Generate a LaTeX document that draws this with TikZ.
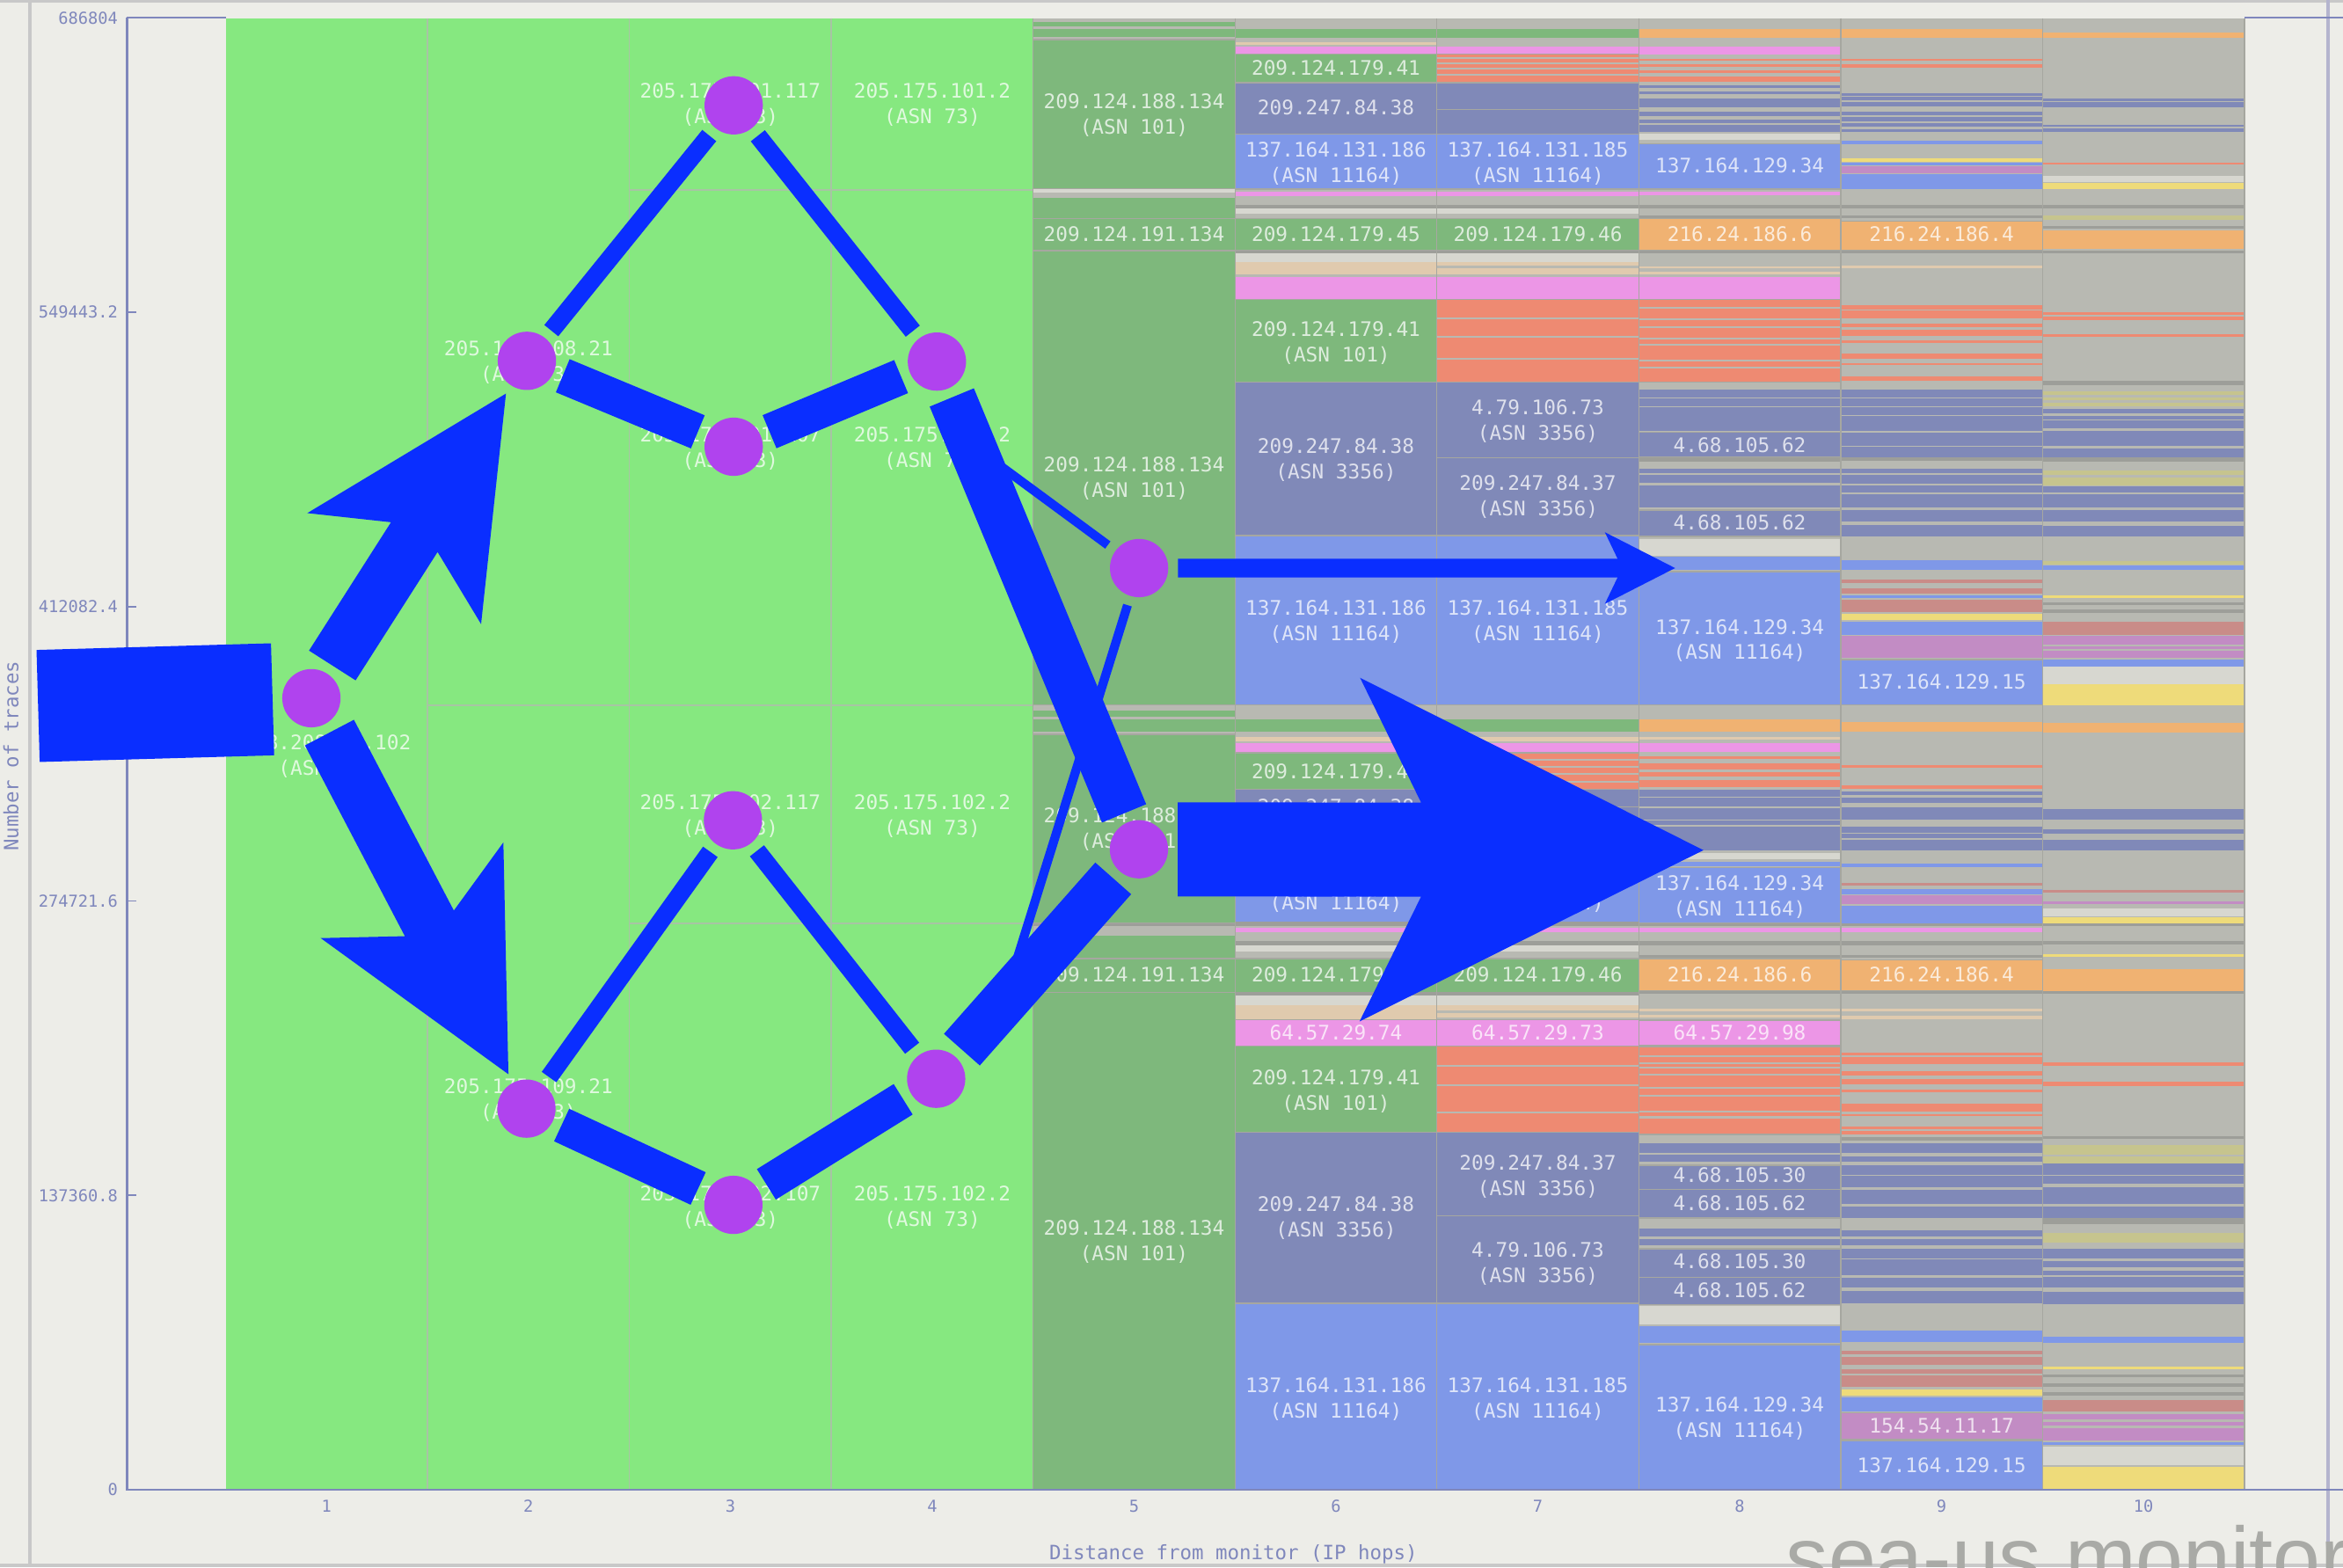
\documentclass[tikz,border=0pt]{standalone}
\usepackage{fontspec}
\usetikzlibrary{calc}
\newfontfamily\monof{DejaVu Sans Mono}
\newfontfamily\wmfont{Liberation Sans}

\definecolor{cBg}{HTML}{EDEDE8}
\definecolor{cFr}{HTML}{C8C8C8}
\definecolor{cLg}{HTML}{86E880}
\definecolor{cDg}{HTML}{7EB87C}
\definecolor{cSl}{HTML}{8089B8}
\definecolor{cSk}{HTML}{7F98E8}
\definecolor{cSa}{HTML}{EE8A72}
\definecolor{cPk}{HTML}{EC96E6}
\definecolor{cOr}{HTML}{F0B272}
\definecolor{cGr}{HTML}{B8B9B2}
\definecolor{cDk}{HTML}{9D9E99}
\definecolor{cLt}{HTML}{D7D7D0}
\definecolor{cBe}{HTML}{E0CAAE}
\definecolor{cYe}{HTML}{EEDB7A}
\definecolor{cMa}{HTML}{C28CC4}
\definecolor{cRo}{HTML}{C98C88}
\definecolor{cOl}{HTML}{C6C48E}
\definecolor{cLine}{HTML}{A6A7A0}
\definecolor{cGl}{HTML}{A8C4A4}
\definecolor{cAx}{HTML}{7F87BC}
\definecolor{cEdge}{HTML}{0A2EFF}
\definecolor{cNode}{HTML}{B043EE}
\definecolor{cWm}{HTML}{A9AAA6}

\newcommand\labfont{\monof\fontsize{13.4}{14}\selectfont}
\newcommand\axfont{\monof\fontsize{13.2}{14}\selectfont}
\newcommand\tkfont{\monof\fontsize{11}{12}\selectfont}
\newcommand\wmf{\wmfont\fontsize{57}{60}\selectfont}

\newcounter{lbc}
% a coloured stripe across one hop column
\newcommand\bnd[3]{\fill[#3] (0,#1) rectangle (135.1,#2);}
% a bordered cell across one hop column
\newcommand\cel[3]{\filldraw[fill=#3, draw=cLine, line width=0.8pt] (0,#1) rectangle (135.1,#2);}
% thin grey divider inside a cell
\newcommand\hl[1]{\fill[cGr] (0,#1-0.6) rectangle (135.1,#1+0.6);}
% cell labels (one and two lines)
\newcommand\lbl[2]{\stepcounter{lbc}\node[lab] (lab\arabic{lbc}) at (67.55,#1) {#2};}
\newcommand\lbll[3]{\lbl{#1}{#2}\lbl{#1+17}{#3}}
% thick arrow: start S, tip T, half shaft, head length, tip-to-join, head half width
\newcommand\fatarrow[6]{\fill[cEdge] ($(#1)!#3!90:(#2)$) -- ($(#2)!#5!(#1)!#3!90:(#2)$) -- ($(#2)!#4!(#1)!#6!90:(#2)$) -- (#2) -- ($(#2)!#4!(#1)!#6!270:(#2)$) -- ($(#2)!#5!(#1)!#3!270:(#2)$) -- ($(#1)!#3!270:(#2)$) -- cycle;}

\begin{document}
\begin{tikzpicture}[x=1pt,y=-1pt,
  lab/.style={font=\labfont, text=white, text opacity=0.74, inner sep=0pt, text height=9.8pt, text depth=0pt, anchor=center},
  tkl/.style={font=\tkfont, text=cAx, inner sep=0pt},
  axl/.style={font=\axfont, text=cAx, inner sep=0pt},
  gnode/.style={circle, fill=cNode, minimum size=39pt, inner sep=0pt, outer sep=6.5pt},
  link/.style={draw=cEdge, line cap=butt},
]
\clip (0,0) rectangle (1568,1049);
\fill[cBg] (0,0) rectangle (1568,1049);

% outer frame
\fill[cFr] (0,0) rectangle (1568,1.5);
\fill[cFr] (0,1046.5) rectangle (1568,1049);
\fill[cFr] (19,0) rectangle (21,1049);
\fill[cFr!90!blue] (1556.6,0) rectangle (1559.2,1049);

% plot background
\fill[cLg] (151,12.2) rectangle (691.4,997);
\fill[cDg] (691.4,12.2) rectangle (826.5,997);
\fill[cGr] (826.5,12.2) rectangle (1502,997);

% hop 1
\begin{scope}[shift={(151,0)}]
\lbl{497}{198.208.16.102}\lbl{514}{(ASN 73)}
\end{scope}
% hop 2
\begin{scope}[shift={(286.1,0)}]
\lbll{233}{205.175.108.21}{(ASN 73)}
\lbll{727}{205.175.109.21}{(ASN 73)}
\end{scope}
% hop 3
\begin{scope}[shift={(421.2,0)}]
\lbll{61}{205.175.101.117}{(ASN 73)}
\lbll{291}{205.175.101.107}{(ASN 73)}
\lbll{537}{205.175.102.117}{(ASN 73)}
\lbll{799}{205.175.102.107}{(ASN 73)}
\end{scope}
% hop 4
\begin{scope}[shift={(556.3,0)}]
\lbll{61}{205.175.101.2}{(ASN 73)}
\lbll{291}{205.175.101.2}{(ASN 73)}
\lbll{537}{205.175.102.2}{(ASN 73)}
\lbll{799}{205.175.102.2}{(ASN 73)}
\end{scope}
\draw[cGl, line width=0.9pt] (286.1,472) -- (691.4,472);
\draw[cGl, line width=0.9pt] (421.2,127) -- (691.4,127);
\draw[cGl, line width=0.9pt] (421.2,618) -- (691.4,618);

% hop 5
\begin{scope}[shift={(691.4,0)}]
\bnd{12.2}{14.7}{cGr}\bnd{17.7}{19.6}{cGr}\bnd{24.5}{26.5}{cGr}
\cel{26.5}{126.5}{cDg}\lbll{68}{209.124.188.134}{(ASN 101)}
\bnd{126.5}{129}{cLt}\bnd{129}{132.4}{cGr}
\cel{146.2}{167.8}{cDg}\lbl{156.5}{209.124.191.134}
\cel{167.8}{471.8}{cDg}\lbll{311}{209.124.188.134}{(ASN 101)}
\bnd{471.8}{475.8}{cGr}\bnd{479.7}{481.7}{cGr}\bnd{489.5}{491.5}{cGr}
\cel{491.5}{618}{cDg}\lbll{546}{209.124.188.134}{(ASN 101)}
\bnd{618}{620}{cDk}\bnd{620}{626}{cGr}
\cel{641.6}{664.2}{cDg}\lbl{652.5}{209.124.191.134}
\cel{664.2}{997}{cDg}\lbll{822}{209.124.188.134}{(ASN 101)}
\end{scope}

% hop 6
\begin{scope}[shift={(826.5,0)}]
\bnd{19.2}{25.1}{cDg}\bnd{28.5}{29.8}{cBe}\bnd{31.4}{36.3}{cPk}
\cel{36.3}{55.4}{cDg}\lbl{45.6}{209.124.179.41}
\cel{55.4}{89.8}{cSl}\lbl{72}{209.247.84.38}
\cel{89.8}{126.5}{cSk}\lbll{100}{137.164.131.186}{(ASN 11164)}
\bnd{128.5}{131.1}{cPk}\bnd{137.3}{139.3}{cDk}\bnd{139.3}{143.2}{cLt}
\cel{146.2}{167.8}{cDg}\lbl{156.5}{209.124.179.45}
\bnd{167.8}{169.7}{cDk}\bnd{169.7}{175.6}{cLt}\bnd{175.6}{183.4}{cBe}\bnd{185.4}{200.1}{cPk}
\cel{200.6}{255.6}{cDg}\lbll{220.5}{209.124.179.41}{(ASN 101)}
\cel{255.6}{358.5}{cSl}\lbll{298.5}{209.247.84.38}{(ASN 3356)}
\cel{358.5}{471.9}{cSk}\lbll{407}{137.164.131.186}{(ASN 11164)}
\bnd{481.7}{489.5}{cDg}\bnd{493.5}{496.4}{cBe}\bnd{497.4}{503.3}{cPk}
\cel{503.8}{528.3}{cDg}\lbl{516}{209.124.179.41}
\cel{528.3}{552.5}{cSl}\lbl{540}{209.247.84.38}
\cel{552.5}{617}{cSk}\lbll{587}{137.164.131.186}{(ASN 11164)}
\bnd{617}{620}{cDk}\bnd{621}{624}{cPk}\bnd{630}{633}{cDk}\bnd{633}{637}{cLt}
\cel{641.6}{664.2}{cDg}\lbl{652.5}{209.124.179.45}
\bnd{664.2}{666}{cDk}\bnd{666}{673}{cLt}\bnd{673}{682}{cBe}
\cel{682.5}{700}{cPk}\lbl{691}{64.57.29.74}
\cel{700}{757.9}{cDg}\lbll{721}{209.124.179.41}{(ASN 101)}
\cel{757.9}{872.3}{cSl}\lbll{806}{209.247.84.38}{(ASN 3356)}
\cel{872.3}{997}{cSk}\lbll{927}{137.164.131.186}{(ASN 11164)}
\end{scope}

% hop 7
\begin{scope}[shift={(961.6,0)}]
\bnd{19.2}{25.1}{cDg}\bnd{31.4}{36.3}{cPk}
\cel{36.3}{55.4}{cSa}\hl{38.6}\hl{42.4}\hl{46.1}\hl{50.1}
\cel{55.4}{73.1}{cSl}\cel{73.1}{89.8}{cSl}
\cel{89.8}{126.5}{cSk}\lbll{100}{137.164.131.185}{(ASN 11164)}
\bnd{128.5}{131.1}{cPk}\bnd{137.3}{139.3}{cDk}\bnd{139.3}{143.2}{cLt}
\cel{146.2}{167.8}{cDg}\lbl{156.5}{209.124.179.46}
\bnd{167.8}{169.7}{cDk}\bnd{169.7}{175.6}{cLt}\bnd{175.6}{177.6}{cBe}\bnd{179.5}{183.4}{cBe}\bnd{185.4}{200.1}{cPk}
\cel{200.6}{255.6}{cSa}\hl{213}\hl{225.6}\hl{240.3}
\cel{255.6}{306.5}{cSl}\lbll{272.5}{4.79.106.73}{(ASN 3356)}
\cel{306.5}{358.5}{cSl}\lbll{323.5}{209.247.84.37}{(ASN 3356)}
\cel{358.5}{471.9}{cSk}\lbll{407}{137.164.131.185}{(ASN 11164)}
\bnd{481.7}{489.5}{cDg}\bnd{493.5}{496.4}{cBe}\bnd{497.4}{503.3}{cPk}
\cel{503.8}{528.3}{cSa}\hl{508.5}\hl{513}\hl{518}\hl{523}
\cel{528.3}{540}{cSl}\cel{540}{552.5}{cSl}
\cel{552.5}{617}{cSk}\lbll{587}{137.164.131.185}{(ASN 11164)}
\bnd{617}{620}{cDk}\bnd{621}{624}{cPk}\bnd{630}{633}{cDk}\bnd{633}{637}{cLt}
\cel{641.6}{664.2}{cDg}\lbl{652.5}{209.124.179.46}
\bnd{664.2}{666}{cDk}\bnd{666}{673}{cLt}\bnd{673}{676}{cBe}\bnd{678}{681}{cBe}
\cel{682.5}{700}{cPk}\lbl{691}{64.57.29.73}
\cel{700}{757.9}{cSa}\hl{713.5}\hl{726.5}\hl{744.7}
\cel{757.9}{813.7}{cSl}\lbll{778.5}{209.247.84.37}{(ASN 3356)}
\cel{813.7}{872.3}{cSl}\lbll{836.5}{4.79.106.73}{(ASN 3356)}
\cel{872.3}{997}{cSk}\lbll{927}{137.164.131.185}{(ASN 11164)}
\end{scope}

% hop 8
\begin{scope}[shift={(1096.7,0)}]
\bnd{19.2}{25.5}{cOr}\bnd{31.4}{36.3}{cPk}
\bnd{39.2}{40.8}{cSa}\bnd{43.2}{44.7}{cSa}\bnd{47}{49}{cSa}\bnd{51.4}{54.5}{cSa}
\bnd{56.9}{58.9}{cSl}\bnd{61.2}{63.2}{cSl}\bnd{65.7}{71.6}{cSl}\bnd{74.6}{77.5}{cSl}\bnd{80}{82.4}{cSl}\bnd{83.4}{88.3}{cSl}
\bnd{89.3}{93.8}{cLt}
\cel{96.1}{126.5}{cSk}\lbl{111}{137.164.129.34}
\bnd{128.5}{130.5}{cPk}\bnd{137.3}{139.3}{cDk}\bnd{144}{146}{cDk}
\cel{146.2}{167.8}{cOr}\lbl{156.5}{216.24.186.6}
\bnd{167.8}{169.7}{cDk}\bnd{178.5}{179.5}{cBe}\bnd{182}{183.4}{cBe}\bnd{185.4}{200.1}{cPk}
\cel{200.6}{255.6}{cSa}\hl{206}\hl{213.9}\hl{218.8}\hl{226.6}\hl{230.5}\hl{241.3}\hl{246.2}
\bnd{261}{265.8}{cSl}\bnd{266.8}{271.7}{cSl}\bnd{272.7}{288.4}{cSl}
\cel{289.4}{306}{cSl}\lbl{297.8}{4.68.105.62}
\bnd{306}{309}{cDk}
\bnd{313.9}{316.9}{cSl}\bnd{317.8}{323.3}{cSl}\bnd{324.7}{339.4}{cSl}
\cel{341.4}{359}{cSl}\lbl{349.5}{4.68.105.62}
\bnd{361}{371.8}{cLt}\bnd{372.8}{381.6}{cSk}
\cel{382.6}{471.8}{cSk}\lbll{419.5}{137.164.129.34}{(ASN 11164)}
\bnd{481.7}{489.5}{cOr}\bnd{493.5}{495}{cBe}\bnd{497.4}{503.3}{cPk}
\bnd{506.2}{508.2}{cSa}\bnd{511}{515}{cSa}\bnd{517}{520}{cSa}\bnd{522}{527}{cSa}
\bnd{528.8}{533}{cSl}\bnd{534}{540}{cSl}\bnd{541}{548.4}{cSl}\bnd{549.4}{552.3}{cSl}\bnd{553.3}{569}{cSl}
\bnd{571}{575}{cLt}\bnd{577}{580}{cSk}
\cel{580.8}{618}{cSk}\lbll{591}{137.164.129.34}{(ASN 11164)}
\bnd{618}{620}{cDk}\bnd{621}{624}{cPk}\bnd{630}{633}{cDk}\bnd{639}{641}{cDk}
\cel{641.6}{663.2}{cOr}\lbl{652.5}{216.24.186.6}
\bnd{663.2}{665}{cDk}\bnd{675}{677}{cBe}\bnd{679}{681}{cBe}
\cel{682.8}{699.5}{cPk}\lbl{691}{64.57.29.98}
\cel{700.5}{759.2}{cSa}\hl{706.8}\hl{711.7}\hl{714.5}\hl{719.5}\hl{728}\hl{733.3}\hl{743.7}\hl{747.8}
\bnd{765.4}{771.6}{cSl}\bnd{772.7}{777.8}{cSl}
\cel{779.9}{795.9}{cSl}\lbl{786.5}{4.68.105.30}
\cel{795.9}{815.1}{cSl}\lbl{805}{4.68.105.62}
\bnd{822.3}{827.5}{cSl}\bnd{829.6}{833.7}{cSl}
\cel{835.8}{855}{cSl}\lbl{844}{4.68.105.30}
\cel{855}{873.1}{cSl}\lbl{863.5}{4.68.105.62}
\bnd{874.1}{886.5}{cLt}\bnd{887.6}{899}{cSk}
\cel{900}{997}{cSk}\lbll{940}{137.164.129.34}{(ASN 11164)}
\end{scope}

% hop 9
\begin{scope}[shift={(1231.8,0)}]
\bnd{19.2}{25.1}{cOr}
\bnd{39.2}{40.8}{cSa}\bnd{43.2}{45.5}{cSa}
\bnd{62.4}{64.4}{cSl}\bnd{65}{67}{cSl}\bnd{68.3}{71}{cSl}\bnd{74.6}{76.9}{cSl}\bnd{78.5}{81.4}{cSl}\bnd{82.4}{84.8}{cSl}\bnd{86.3}{88.3}{cSl}
\bnd{94.2}{96.5}{cSk}\bnd{106}{108.3}{cYe}\bnd{108.9}{110.9}{cSk}\bnd{111.4}{115.8}{cMa}\bnd{116.7}{126.5}{cSk}
\bnd{137.3}{139.3}{cDk}\bnd{144.2}{146.2}{cDk}
\cel{148.1}{167.8}{cOr}\lbl{156.5}{216.24.186.4}
\bnd{167.8}{169.7}{cDk}\bnd{177.6}{179.5}{cBe}
\bnd{204}{207}{cSa}\bnd{207.5}{213}{cSa}\bnd{216.8}{218.8}{cSa}\bnd{220.7}{224.7}{cSa}\bnd{227.6}{229.5}{cSa}\bnd{236.4}{240.3}{cSa}\bnd{242.9}{244.3}{cSa}\bnd{252.1}{255.1}{cSa}
\bnd{261}{265.8}{cSl}\bnd{266.8}{271.7}{cSl}\bnd{272.7}{277.6}{cSl}\bnd{278.6}{288.4}{cSl}\bnd{289.4}{298.2}{cSl}\bnd{299.2}{306.1}{cSl}
\bnd{306.1}{308.5}{cDk}
\bnd{313.9}{316.9}{cSl}\bnd{317.8}{323.7}{cSl}\bnd{324.7}{329.6}{cSl}\bnd{330.6}{339.4}{cSl}\bnd{341.4}{349.2}{cSl}\bnd{351.2}{359}{cSl}
\bnd{374.7}{381.6}{cSk}
\bnd{388}{390}{cRo}\bnd{393.9}{397.3}{cRo}\bnd{398.7}{400.3}{cSk}\bnd{401.2}{409.6}{cRo}
\bnd{411}{415}{cYe}\bnd{416}{424.8}{cSk}\bnd{425.7}{440.5}{cMa}
\cel{441.4}{471.8}{cSk}\lbl{456.5}{137.164.129.15}
\bnd{483}{489.5}{cOr}
\bnd{512.1}{514}{cSa}\bnd{525.8}{527.8}{cSa}
\bnd{530}{532}{cSl}\bnd{534}{537.5}{cSl}\bnd{540.5}{548.4}{cSl}\bnd{553.3}{557.2}{cSl}\bnd{558.2}{561}{cSl}\bnd{562.1}{569}{cSl}
\bnd{577.8}{580.4}{cSk}\bnd{591}{592.5}{cRo}\bnd{595}{598.4}{cSk}\bnd{599.4}{605.3}{cMa}\bnd{606.3}{618}{cSk}
\bnd{618}{620}{cDk}\bnd{621}{624}{cPk}\bnd{630}{633}{cDk}\bnd{639}{641}{cDk}
\cel{642.6}{663.2}{cOr}\lbl{652.5}{216.24.186.4}
\bnd{663.2}{665}{cDk}\bnd{675}{677}{cBe}\bnd{680}{682}{cBe}
\bnd{704.4}{706.3}{cSa}\bnd{707.3}{712.2}{cSa}\bnd{717.1}{720}{cSa}\bnd{722}{726}{cSa}\bnd{729}{731}{cSa}\bnd{738.5}{743.7}{cSa}\bnd{745.7}{747.2}{cSa}\bnd{754}{756}{cSa}\bnd{757}{759}{cSa}
\bnd{761.3}{763.3}{cDk}
\bnd{765.4}{771.6}{cSl}\bnd{773.7}{777.8}{cSl}\bnd{779.9}{786.1}{cSl}\bnd{787.1}{794.4}{cSl}\bnd{796.5}{805.8}{cSl}\bnd{807.8}{815.1}{cSl}
\bnd{823.4}{827.5}{cSl}\bnd{829.6}{833.7}{cSl}\bnd{835.8}{842}{cSl}\bnd{843}{853.4}{cSl}\bnd{855.5}{861.7}{cSl}\bnd{863.8}{872}{cSl}
\bnd{890.7}{898}{cSk}
\bnd{904.1}{906.2}{cRo}\bnd{908.3}{913.4}{cRo}\bnd{916.5}{919.6}{cRo}\bnd{920.7}{928}{cRo}
\bnd{930}{934.2}{cYe}\bnd{935.2}{944.5}{cSk}
\cel{945.5}{963.1}{cMa}\lbl{954.3}{154.54.11.17}
\cel{964.2}{997}{cSk}\lbl{980.6}{137.164.129.15}
\end{scope}

% hop 10
\begin{scope}[shift={(1366.9,0)}]
\bnd{22}{25.5}{cOr}
\bnd{65.7}{67.5}{cSl}\bnd{68.5}{71.6}{cSl}\bnd{83.4}{85}{cSl}\bnd{86}{88.3}{cSl}
\bnd{108.9}{110.3}{cSa}\bnd{117.7}{121.6}{cLt}\bnd{122.6}{126.5}{cYe}
\bnd{137.3}{139.3}{cDk}\bnd{144.2}{147.2}{cOl}\bnd{151}{153}{cDk}\bnd{154}{166.8}{cOr}\bnd{167.8}{169.7}{cDk}
\bnd{209}{211}{cSa}\bnd{212}{214}{cSa}\bnd{223.7}{225.6}{cSa}
\bnd{255}{258}{cDk}
\bnd{262}{264}{cOl}\bnd{265.8}{267.8}{cOl}\bnd{269.8}{271.7}{cOl}
\bnd{273.7}{276.6}{cSl}\bnd{278.6}{280.5}{cSl}\bnd{281.5}{286.4}{cSl}\bnd{288.4}{298.2}{cSl}\bnd{300.2}{306.1}{cSl}
\bnd{306.1}{309}{cDk}
\bnd{314.9}{317.8}{cOl}\bnd{319.8}{324.7}{cOl}
\bnd{325.7}{329.6}{cSl}\bnd{330.6}{339.4}{cSl}\bnd{341.4}{349.2}{cSl}\bnd{352.2}{359}{cSl}
\bnd{375.7}{377.6}{cOl}\bnd{378.6}{381.6}{cSk}
\bnd{398.3}{400.3}{cYe}\bnd{403}{405}{cDk}\bnd{408}{410}{cDk}
\bnd{416}{424.8}{cRo}
\bnd{425.7}{431.6}{cMa}\bnd{432.6}{434.6}{cMa}\bnd{435.6}{440.5}{cMa}
\bnd{441.4}{446.3}{cSk}\bnd{446.3}{458.1}{cLt}\bnd{458.1}{471.8}{cYe}
\bnd{483.6}{490.5}{cOr}
\bnd{541.5}{548.4}{cSl}\bnd{555.3}{558.2}{cSl}\bnd{562.1}{569}{cSl}
\bnd{595.5}{597.4}{cRo}\bnd{603.3}{605.3}{cMa}\bnd{608.2}{613.1}{cLt}\bnd{614.1}{618}{cYe}
\bnd{618}{620}{cDk}\bnd{630}{632}{cDk}\bnd{638.6}{640.6}{cYe}
\bnd{648.5}{663.2}{cOr}\bnd{663.2}{665}{cDk}
\bnd{711.2}{713.2}{cSa}\bnd{724}{727}{cSa}
\bnd{760.2}{762.3}{cDk}
\bnd{766.4}{772.7}{cOl}\bnd{773.7}{778.9}{cOl}
\bnd{778.9}{786.1}{cSl}\bnd{787.1}{792}{cSl}\bnd{794.4}{805.8}{cSl}\bnd{807.8}{815.1}{cSl}
\bnd{815.1}{819.2}{cDk}\bnd{825.4}{831.7}{cOl}
\bnd{835.8}{842}{cSl}\bnd{844}{848}{cSl}\bnd{850.3}{853.4}{cSl}\bnd{854.4}{861.7}{cSl}\bnd{864.8}{873.1}{cSl}
\bnd{894.8}{899}{cSk}\bnd{914.5}{916.5}{cYe}
\bnd{920}{922}{cDk}\bnd{926}{928}{cDk}\bnd{932}{934}{cDk}
\bnd{937.3}{944.5}{cRo}
\bnd{946.6}{949.7}{cMa}\bnd{951.7}{953.8}{cMa}\bnd{955.9}{964.2}{cMa}
\bnd{965.2}{967.3}{cSk}\bnd{968.3}{980.7}{cLt}\bnd{981.8}{997}{cYe}
\end{scope}

% column separators
\foreach \xx in {286.1,421.2,556.3}
  \draw[cGl, line width=0.9pt] (\xx,12.2) -- (\xx,997);
\foreach \xx in {691.4,826.5,961.6,1096.7,1231.8,1366.9,1502}
  \draw[cLine, line width=0.8pt] (\xx,12.2) -- (\xx,997);

% axes
\draw[cAx, line width=1.3pt] (85,12) -- (85,997) -- (1568,997);
\draw[cAx, line width=1.3pt] (85,12) -- (151,12);
\draw[cAx, line width=1.3pt] (1502,12) -- (1568,12);
\foreach \yy/\tv [count=\i] in {12/686804,209/549443.2,406/412082.4,603/274721.6,800/137360.8,997/0}{
  \draw[cAx, line width=1pt] (85,\yy) -- (91,\yy);
  \node[tkl, anchor=east] (yt\i) at (79,\yy) {\tv};
}
\foreach \k in {1,...,10}
  \node[tkl] (xt\k) at ({218.55+135.1*(\k-1)},1008) {\k};
\node[axl] (xtitle) at (825.4,1040) {Distance from monitor (IP hops)};
\node[axl, rotate=90] (ytitle) at (7.4,506) {Number of traces};
\node[anchor=base west, inner sep=0pt, font=\wmf, text=cWm] (wm) at (1195,1062) {sea-us monitor};

% path graph overlay
\node[gnode] (n1) at (208.4,467.3) {};
\node[gnode] (n2) at (352.6,241.5) {};
\node[gnode] (n3) at (352.3,742) {};
\node[gnode] (n4) at (491,70.5) {};
\node[gnode] (n5) at (491,299) {};
\node[gnode] (n6) at (490.5,549) {};
\node[gnode] (n7) at (490.8,806.4) {};
\node[gnode] (n8) at (627,242) {};
\node[gnode] (n9) at (626.5,722) {};
\node[gnode] (n10) at (762.3,380.2) {};
\node[gnode] (n11) at (762.2,568.4) {};

\coordinate (src) at (25.5,472.5);
\coordinate (out1) at (1121,380.2);
\coordinate (out2) at (1140,569);
\coordinate (j8) at ($(n8)!60pt!(n11)$);
\coordinate (j9) at ($(n9)!68pt!(n11)$);

% thin links
\draw[link, line width=6pt] (j8) -- (n10);
\draw[link, line width=6pt] (n10) -- (j9);
\draw[link, line width=12pt] (n2) -- (n4);
\draw[link, line width=12pt] (n4) -- (n8);
\draw[link, line width=12pt] (n3) -- (n6);
\draw[link, line width=12pt] (n6) -- (n9);
% medium links
\draw[link, line width=24pt] (n2) -- (n5);
\draw[link, line width=24pt] (n5) -- (n8);
\draw[link, line width=24pt] (n3) -- (n7);
\draw[link, line width=24pt] (n7) -- (n9);
% heavy links
\draw[link, line width=32pt] (n8) -- (n11);
\draw[link, line width=32pt] (n9) -- (n11);
% incoming traffic
\draw[link, line width=75pt] (src) -- (n1);
% arrows
\coordinate (a2s) at ($(n1)!26pt!(n2)$);
\coordinate (a2t) at ($(n2)!26pt!(n1)$);
\fatarrow{a2s}{a2t}{18.5pt}{139pt}{114pt}{69pt}
\coordinate (a3s) at ($(n1)!26pt!(n3)$);
\coordinate (a3t) at ($(n3)!26pt!(n1)$);
\fatarrow{a3s}{a3t}{18.5pt}{139pt}{114pt}{69pt}
\coordinate (a10s) at ($(n10)!26pt!(out1)$);
\fatarrow{a10s}{out1}{6.3pt}{47pt}{38.5pt}{24pt}
\coordinate (a11s) at ($(n11)!26pt!(out2)$);
\fatarrow{a11s}{out2}{31.5pt}{230pt}{189pt}{115pt}
\end{tikzpicture}
\end{document}
